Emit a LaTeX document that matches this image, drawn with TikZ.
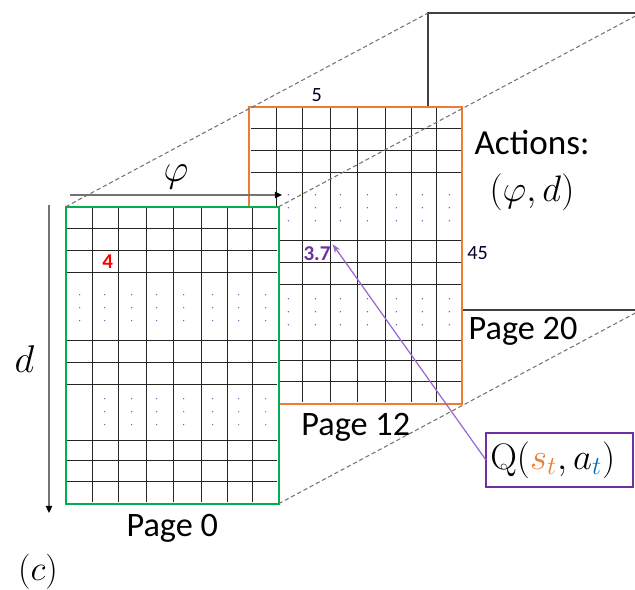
\RequirePackage{fix-cm}
\documentclass[tikz,border=0pt]{standalone}
\usepackage{amsmath}
\usepackage[no-math]{fontspec}
\setmainfont{Carlito}
\usepackage{xcolor}
\usetikzlibrary{arrows.meta,positioning}

\definecolor{greenpage}{RGB}{0,176,80}
\definecolor{orangepage}{RGB}{237,125,49}
\definecolor{qpurple}{RGB}{112,48,160}
\definecolor{arrowpurple}{RGB}{155,105,205}
\definecolor{tblue}{RGB}{0,112,192}

% grid of one page, drawn from its top left corner
\newcommand{\gridcells}{%
  \foreach \gx in {27,53,81,108,136,162,187}
    \draw[gridline] (\gx,1.5) -- (\gx,295.5);
  \foreach \gy in {22,44,66,134,156,178,234,254,275}
    \draw[gridline] (1.5,\gy) -- (211.5,\gy);
  \foreach \dx in {14,39,66,91,118,147,173,200}
    \foreach \dy in {88,101,114}
      \fill[celldot] (\dx,\dy) circle (0.4pt);
  \foreach \dx in {39,66,91,118,147,173,200}
    \foreach \dy in {192,205,218}
      \fill[celldot] (\dx,\dy) circle (0.4pt);
}

\begin{document}
\begin{tikzpicture}[
    x=0.02cm, y=-0.02cm,
    pagebox/.style={draw, fill=white, line width=1.1pt, minimum width=4.26cm, minimum height=5.94cm, inner sep=0pt, outer sep=0pt},
    gridline/.style={black!85, line width=0.55pt},
    celldot/.style={blue!50!black!65},
    depthline/.style={black!55, dash pattern=on 2.4pt off 1.6pt, line width=0.6pt},
    axisarrow/.style={-{Triangle[length=4pt, width=3.6pt, color=black]}, black!55, line width=0.7pt},
    axislabel/.style={font=\fontsize{22}{26}\selectfont, text=black, inner sep=0pt},
    pagelabel/.style={font=\fontsize{19.5}{24}\selectfont, inner sep=0pt},
    cellval/.style={font=\fontsize{12}{14}\selectfont\bfseries, inner sep=1pt},
    sizelabel/.style={font=\fontsize{11.5}{13}\selectfont, text=black!85!blue},
    qarrow/.style={-{Stealth[length=5pt, width=3.6pt]}, arrowpurple, line width=0.7pt},
    qbox/.style={draw=qpurple, line width=1.4pt, minimum width=2.94cm, minimum height=1.08cm, text width=2.76cm, align=left, inner sep=0pt, outer sep=0pt, font=\fontsize{21}{25}\selectfont}
]
\clip (0,0) rectangle (635,590);

% pages, back to front
\node[pagebox, draw=black!75, line width=0.8pt, fill=none] (page20) at (534.5,161.5) {};
\node[pagebox, draw=orangepage] (page12) at (355.8,255.2) {};
\begin{scope}[shift={(page12.north west)}]
  \gridcells
\end{scope}
\node[pagebox, draw=greenpage] (page0) at (172.2,355.2) {};
\begin{scope}[shift={(page0.north west)}]
  \gridcells
\end{scope}

\draw[depthline] (page0.north west) -- (page20.north west);
\draw[depthline] (page0.north east) -- (page20.north east);
\draw[depthline] (page0.south east) -- (page20.south east);

% axes
\coordinate (phistart) at (70,195);
\coordinate (phiend) at (282,195);
\coordinate (dstart) at (49,205);
\coordinate (dend) at (49,513);
\draw[axisarrow] (phistart) -- node[axislabel, above=3pt] (philbl) {$\varphi$} (phiend);
\draw[axisarrow] (dstart) -- node[axislabel, left=8pt] (dlbl) {$d$} (dend);

% labels
\node[pagelabel, below=6pt of page0] (lbl0) {Page 0};
\node[pagelabel, below=5pt of page12] (lbl12) {Page 12};
\node[pagelabel, below=4pt of page20, xshift=-0.23cm] (lbl20) {Page 20};
\node[pagelabel, font=\fontsize{20}{24}\selectfont] (actions) at (532,142) {Actions:};
\node[axislabel, font=\fontsize{21}{25}\selectfont, below=11pt of actions] (actpair) {$(\varphi, d)$};
\node[sizelabel] (cols) at (316.7,95) {5};
\node[sizelabel] (rows) at (477.7,253.3) {45};
\node[cellval, text=red] (v4) at (107.7,261.2) {4};
\node[cellval, text=qpurple] (v37) at (317,253.3) {3.7};
\node[axislabel, font=\fontsize{20}{24}\selectfont] (tag) at (38,571.7) {$(c)$};

\node[qbox] (qval) at (559.4,460) {$\mathrm{Q}(\textcolor{orangepage}{s_t}, a_{\textcolor{tblue}{t}})$};
\draw[qarrow] (qval.west) -- (v37.north east);
\end{tikzpicture}
\end{document}
